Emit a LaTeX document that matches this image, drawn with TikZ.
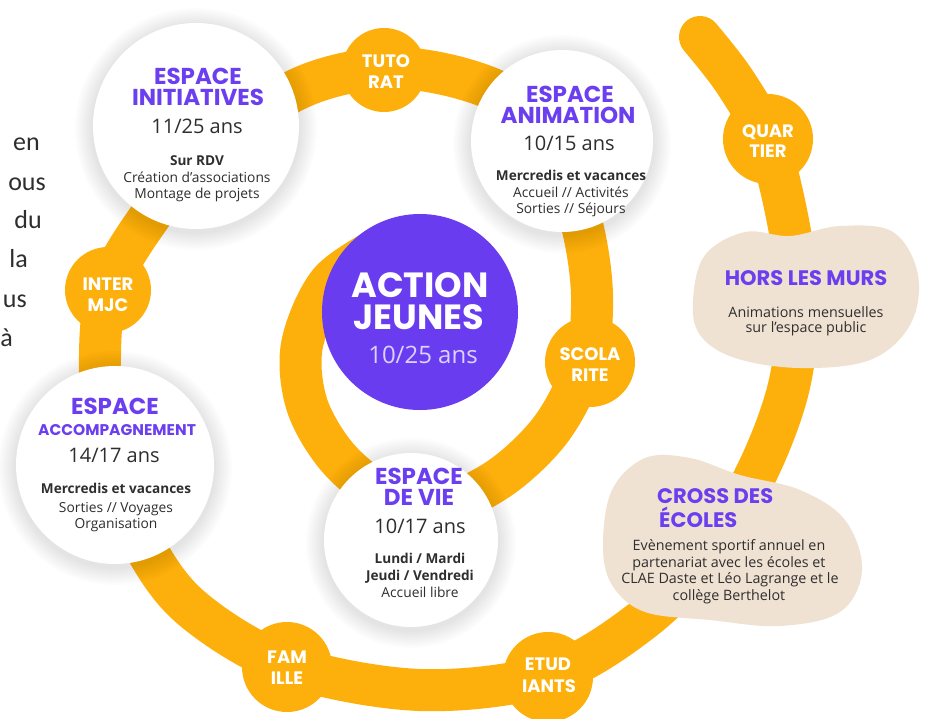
\documentclass[tikz,border=0pt]{standalone}
\usepackage{fontspec}
\setmainfont{Open Sans}
\newfontfamily\hdfam{Poppins}
\newfontfamily\ltfam{Carlito}
\definecolor{orng}{HTML}{FDB00B}
\definecolor{purp}{HTML}{6A3CEF}
\definecolor{hdpurp}{HTML}{6B3FEF}
\definecolor{beige}{HTML}{F0E2D2}
\definecolor{txt}{HTML}{2E2E2E}
\definecolor{lav}{HTML}{DCD2FF}
\newcommand\hdf[1]{\hdfam\bfseries\fontsize{#1}{#1}\selectfont}
\newcommand\bdf[1]{\fontsize{#1}{#1}\selectfont}
\newcommand\glowc[3]{%
  \foreach \d in {2,4,...,18}{%
    \fill[black, opacity=0.012] (#1,#2+3) circle[radius={#3pt+\d pt}];}}
\tikzset{
  band/.style={draw=orng, line width=42pt, line cap=round, line join=round},
  lblc/.style={circle, fill=orng, inner sep=0pt, minimum size=#1},
  wcirc/.style={circle, fill=white, inner sep=0pt, minimum size=#1},
  hdg/.style={font=\hdf{23}, text=hdpurp, anchor=base, inner sep=0pt},
  agef/.style={font=\bdf{20}, text=txt, anchor=base, inner sep=0pt},
  boldf/.style={font=\bfseries\bdf{13.6}, text=txt, anchor=base, inner sep=0pt},
  bodyf/.style={font=\bdf{13.8}, text=txt, anchor=base, inner sep=0pt},
  labf/.style={font=\hdf{18}, text=white, anchor=base, inner sep=0pt},
  sidef/.style={font=\ltfam\fontsize{26}{26}\selectfont, text=txt, anchor=base east, inner sep=0pt},
}
\begin{document}
\begin{tikzpicture}[x=1pt,y=-1pt]
\useasboundingbox[fill=white] (0,0) rectangle (925,718);

% spiral band
\draw[band] plot[smooth, tension=0.55] coordinates {
 (385,245) (330,282) (302,345) (307,405) (338,458) (385,495) (440,505)
 (500,478) (552,428) (585,362) (592,295) (582,225) (558,160) (520,105)
 (460,78) (384,68) (300,88) (205,150) (142,228) (108,290) (100,355)
 (106,445) (136,530) (188,605) (287,665) (420,690) (548,675) (640,622)
 (710,552) (758,470) (788,390) (798,310) (790,232) (768,142) (735,82) (700,37)};

% orange label circles
\node[lblc=84pt] (tut) at (384,70) {};
\node[lblc=86pt] (imjc) at (108,290) {};
\node[lblc=90pt] (sco) at (590,362) {};
\node[lblc=90pt] (fam) at (287,667) {};
\node[lblc=90pt] (etu) at (548,677) {};
\node[lblc=90pt] (qua) at (768,139) {};

% white circles with soft shadow
\glowc{196}{126}{103}
\glowc{562}{141}{91}
\glowc{115}{465}{99}
\glowc{411}{540}{87}
\node[wcirc=206pt] (ini) at (196,126) {};
\node[wcirc=182pt] (ani) at (562,141) {};
\node[wcirc=198pt] (acc) at (115,465) {};
\node[wcirc=174pt] (vie) at (411,540) {};

% central circle
\node[circle, fill=purp, inner sep=0pt, minimum size=196pt] (aj) at (420,312) {};

% beige blobs
\fill[beige] plot[smooth cycle, tension=0.6] coordinates {
 (693,300) (705,255) (745,232) (790,236) (840,226) (893,232) (918,275)
 (910,325) (870,360) (800,368) (735,358) (700,335)};
\fill[beige] plot[smooth cycle, tension=0.6] coordinates {
 (603,545) (612,490) (645,458) (690,458) (740,475) (800,490) (845,520)
 (862,570) (840,612) (780,626) (710,620) (645,612) (612,585)};

% left cropped text
\node[sidef] (s1) at (40,150) {en};
\node[sidef] (s2) at (46,190) {ous};
\node[sidef] (s3) at (42,228) {du};
\node[sidef] (s4) at (28,267) {la};
\node[sidef] (s5) at (27,307) {us};
\node[sidef] (s6) at (13,346) {à};

% Espace Initiatives
\node[hdg] (ini1) at (198,84) {ESPACE};
\node[hdg] (ini2) at (198,105) {INITIATIVES};
\node[agef] (ini3) at (197,133) {11/25 ans};
\node[boldf] (ini4) at (197,165) {Sur RDV};
\node[bodyf] (ini5) at (197,182) {Création d’associations};
\node[bodyf] (ini6) at (197,198) {Montage de projets};

% Espace Animation
\node[hdg] (ani1) at (570,102) {ESPACE};
\node[hdg] (ani2) at (568,123) {ANIMATION};
\node[agef] (ani3) at (569,150) {10/15 ans};
\node[boldf] (ani4) at (571,180) {Mercredis et vacances};
\node[bodyf] (ani5) at (571,197) {Accueil // Activités};
\node[bodyf] (ani6) at (571,213) {Sorties // Séjours};

% Espace Accompagnement
\node[hdg] (acc1) at (115,414) {ESPACE};
\node[hdg, font=\hdf{15.5}] (acc2) at (117,435) {ACCOMPAGNEMENT};
\node[agef] (acc3) at (114,462) {14/17 ans};
\node[boldf] (acc4) at (116,493) {Mercredis et vacances};
\node[bodyf] (acc5) at (116,512) {Sorties // Voyages};
\node[bodyf] (acc6) at (116,528) {Organisation};

% Espace de Vie
\node[hdg] (vie1) at (419,484) {ESPACE};
\node[hdg] (vie2) at (419,505) {DE VIE};
\node[agef] (vie3) at (420,533) {10/17 ans};
\node[boldf] (vie4) at (420,563) {Lundi / Mardi};
\node[boldf] (vie5) at (420,580) {Jeudi / Vendredi};
\node[bodyf] (vie6) at (420,597) {Accueil libre};

% Action Jeunes
\node[hdg, font=\hdf{35}, text=white] (aj1) at (420,297) {ACTION};
\node[hdg, font=\hdf{35}, text=white] (aj2) at (419,329) {JEUNES};
\node[agef, font=\bdf{24}, text=lav] (aj3) at (423,363) {10/25 ans};

% Hors les murs
\node[hdg, font=\hdf{21}] (hlm1) at (806,285) {HORS LES MURS};
\node[bodyf, font=\bdf{14.3}] (hlm2) at (806,317) {Animations mensuelles};
\node[bodyf, font=\bdf{14.3}] (hlm3) at (806,332) {sur l’espace public};

% Cross des ecoles
\node[hdg, font=\hdf{21}, anchor=base west] (cr1) at (657,503) {CROSS DES};
\node[hdg, font=\hdf{21}, anchor=base west] (cr2) at (659,527) {ÉCOLES};
\node[bodyf, font=\bdf{14.3}] (cr3) at (729,550) {Evènement sportif annuel en};
\node[bodyf, font=\bdf{14.3}] (cr4) at (729,567) {partenariat avec les écoles et};
\node[bodyf, font=\bdf{14.3}] (cr5) at (730,583) {CLAE Daste et Léo Lagrange et le};
\node[bodyf, font=\bdf{14.3}] (cr6) at (729,600) {collège Berthelot};

% orange labels
\node[labf] (tutA) at (386,67) {TUTO};
\node[labf] (tutB) at (386,88) {RAT};
\node[labf] (imA) at (108,290) {INTER};
\node[labf] (imB) at (108,311) {MJC};
\node[labf] (scA) at (590,360) {SCOLA};
\node[labf] (scB) at (590,381) {RITE};
\node[labf] (faA) at (287,663) {FAM};
\node[labf] (faB) at (287,684) {ILLE};
\node[labf] (etA) at (548,670) {ETUD};
\node[labf] (etB) at (549,692) {IANTS};
\node[labf] (quA) at (768,137) {QUAR};
\node[labf] (quB) at (768,157) {TIER};
\end{tikzpicture}
\end{document}
